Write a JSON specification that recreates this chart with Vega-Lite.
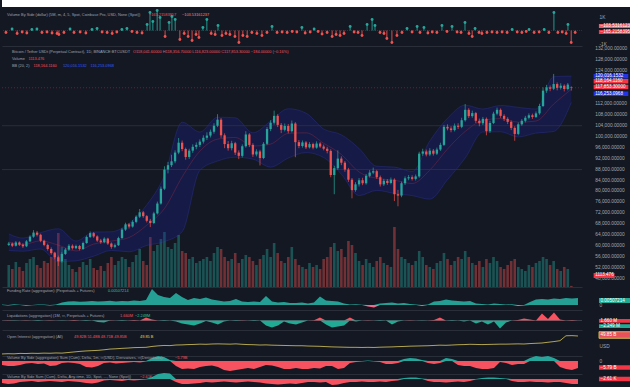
{
"$schema": "https://vega.github.io/schema/vega-lite/v6.json",
"background": "#141823",
"padding": 0,
"spacing": 0,
"bounds": "flush",
"resolve": {"scale": {"x": "independent", "y": "independent"}},
"config": {
  "view": {"stroke": null},
  "axisX": {"domain": true, "domainColor": "#2a2e39", "domainWidth": 1, "labels": false, "ticks": false, "grid": false, "titleOpacity": 0},
  "axisY": {"domain": false, "ticks": false, "grid": false, "labelFont": "Liberation Sans", "labelFontSize": 4.8, "labelColor": "#a3a6af", "labelPadding": 17, "labelOverlap": false, "titleOpacity": 0},
  "text": {"font": "Liberation Sans"}
},
"datasets": {
"c": [
{"i":0,"o":60.5,"h":61.6,"l":60.1,"c":61.0,"v":22},
{"i":1,"o":61.0,"h":61.4,"l":59.7,"c":60.2,"v":18},
{"i":2,"o":60.2,"h":61.9,"l":59.9,"c":61.4,"v":25},
{"i":3,"o":61.4,"h":61.8,"l":60.1,"c":60.6,"v":20},
{"i":4,"o":60.6,"h":61.1,"l":59.4,"c":60.0,"v":16},
{"i":5,"o":60.0,"h":62.3,"l":59.7,"c":61.8,"v":24},
{"i":6,"o":61.8,"h":64.0,"l":61.5,"c":63.5,"v":28},
{"i":7,"o":63.5,"h":65.9,"l":63.1,"c":65.0,"v":30},
{"i":8,"o":65.0,"h":65.6,"l":63.6,"c":64.2,"v":22},
{"i":9,"o":64.2,"h":64.6,"l":61.5,"c":62.0,"v":19},
{"i":10,"o":62.0,"h":62.4,"l":60.0,"c":60.5,"v":26},
{"i":11,"o":60.5,"h":61.0,"l":58.4,"c":59.0,"v":24},
{"i":12,"o":59.0,"h":59.6,"l":56.9,"c":57.5,"v":30},
{"i":13,"o":57.5,"h":58.0,"l":55.2,"c":56.0,"v":35},
{"i":14,"o":56.0,"h":56.6,"l":52.8,"c":54.5,"v":54},
{"i":15,"o":54.5,"h":57.8,"l":54.0,"c":57.2,"v":40},
{"i":16,"o":57.2,"h":59.4,"l":56.8,"c":58.8,"v":28},
{"i":17,"o":58.8,"h":60.8,"l":58.3,"c":60.2,"v":22},
{"i":18,"o":60.2,"h":60.7,"l":58.8,"c":59.3,"v":18},
{"i":19,"o":59.3,"h":60.6,"l":58.9,"c":60.1,"v":15},
{"i":20,"o":60.1,"h":60.5,"l":58.5,"c":59.0,"v":20},
{"i":21,"o":59.0,"h":61.7,"l":58.7,"c":61.2,"v":25},
{"i":22,"o":61.2,"h":63.9,"l":60.9,"c":63.4,"v":22},
{"i":23,"o":63.4,"h":65.4,"l":63.0,"c":64.8,"v":28},
{"i":24,"o":64.8,"h":65.2,"l":63.1,"c":63.6,"v":19},
{"i":25,"o":63.6,"h":64.0,"l":61.6,"c":62.1,"v":17},
{"i":26,"o":62.1,"h":62.7,"l":60.9,"c":61.5,"v":21},
{"i":27,"o":61.5,"h":63.3,"l":61.1,"c":62.8,"v":16},
{"i":28,"o":62.8,"h":63.1,"l":60.5,"c":61.0,"v":24},
{"i":29,"o":61.0,"h":61.4,"l":59.1,"c":59.8,"v":30},
{"i":30,"o":59.8,"h":61.0,"l":59.3,"c":60.4,"v":22},
{"i":31,"o":60.4,"h":63.5,"l":60.1,"c":63.0,"v":26},
{"i":32,"o":63.0,"h":66.7,"l":62.7,"c":66.1,"v":30},
{"i":33,"o":66.1,"h":68.6,"l":65.6,"c":68.0,"v":28},
{"i":34,"o":68.0,"h":68.5,"l":66.5,"c":67.2,"v":20},
{"i":35,"o":67.2,"h":69.5,"l":66.8,"c":68.9,"v":25},
{"i":36,"o":68.9,"h":71.3,"l":68.4,"c":70.8,"v":32},
{"i":37,"o":70.8,"h":73.6,"l":70.3,"c":72.4,"v":38},
{"i":38,"o":72.4,"h":72.9,"l":70.4,"c":71.0,"v":26},
{"i":39,"o":71.0,"h":71.4,"l":68.7,"c":69.3,"v":22},
{"i":40,"o":69.3,"h":70.0,"l":67.0,"c":68.5,"v":50},
{"i":41,"o":68.5,"h":72.6,"l":68.1,"c":72.0,"v":36},
{"i":42,"o":72.0,"h":76.3,"l":71.6,"c":75.6,"v":42},
{"i":43,"o":75.6,"h":81.8,"l":75.2,"c":81.0,"v":48},
{"i":44,"o":81.0,"h":89.2,"l":80.5,"c":88.0,"v":55},
{"i":45,"o":88.0,"h":90.8,"l":86.6,"c":89.6,"v":40},
{"i":46,"o":89.6,"h":93.4,"l":88.9,"c":91.0,"v":38},
{"i":47,"o":91.0,"h":95.0,"l":90.3,"c":94.2,"v":44},
{"i":48,"o":94.2,"h":99.5,"l":93.6,"c":97.8,"v":52},
{"i":49,"o":97.8,"h":98.6,"l":94.7,"c":95.5,"v":36},
{"i":50,"o":95.5,"h":96.0,"l":91.6,"c":92.6,"v":34},
{"i":51,"o":92.6,"h":95.6,"l":91.9,"c":94.9,"v":28},
{"i":52,"o":94.9,"h":97.2,"l":94.1,"c":96.3,"v":30},
{"i":53,"o":96.3,"h":97.9,"l":95.4,"c":97.0,"v":24},
{"i":54,"o":97.0,"h":99.0,"l":96.2,"c":98.2,"v":26},
{"i":55,"o":98.2,"h":100.5,"l":97.5,"c":99.6,"v":28},
{"i":56,"o":99.6,"h":101.6,"l":98.8,"c":100.4,"v":30},
{"i":57,"o":100.4,"h":102.6,"l":99.7,"c":101.8,"v":26},
{"i":58,"o":101.8,"h":104.9,"l":101.1,"c":104.0,"v":34},
{"i":59,"o":104.0,"h":108.2,"l":103.5,"c":106.2,"v":40},
{"i":60,"o":106.2,"h":106.8,"l":99.6,"c":100.5,"v":38},
{"i":61,"o":100.5,"h":101.2,"l":95.8,"c":97.3,"v":30},
{"i":62,"o":97.3,"h":98.4,"l":94.9,"c":95.8,"v":26},
{"i":63,"o":95.8,"h":98.5,"l":95.0,"c":97.6,"v":28},
{"i":64,"o":97.6,"h":98.1,"l":93.3,"c":94.2,"v":34},
{"i":65,"o":94.2,"h":95.0,"l":91.8,"c":93.0,"v":24},
{"i":66,"o":93.0,"h":97.2,"l":92.4,"c":96.5,"v":28},
{"i":67,"o":96.5,"h":102.0,"l":96.0,"c":100.8,"v":32},
{"i":68,"o":100.8,"h":101.3,"l":96.2,"c":97.0,"v":30},
{"i":69,"o":97.0,"h":97.6,"l":92.6,"c":93.5,"v":26},
{"i":70,"o":93.5,"h":95.4,"l":92.8,"c":94.6,"v":22},
{"i":71,"o":94.6,"h":95.2,"l":89.5,"c":92.2,"v":28},
{"i":72,"o":92.2,"h":98.0,"l":91.8,"c":97.4,"v":32},
{"i":73,"o":97.4,"h":103.5,"l":96.9,"c":102.8,"v":38},
{"i":74,"o":102.8,"h":106.0,"l":102.0,"c":105.1,"v":30},
{"i":75,"o":105.1,"h":109.5,"l":104.4,"c":107.6,"v":44},
{"i":76,"o":107.6,"h":108.2,"l":103.5,"c":104.3,"v":34},
{"i":77,"o":104.3,"h":105.0,"l":101.3,"c":102.5,"v":26},
{"i":78,"o":102.5,"h":104.8,"l":101.9,"c":103.9,"v":24},
{"i":79,"o":103.9,"h":104.6,"l":101.2,"c":102.0,"v":30},
{"i":80,"o":102.0,"h":105.9,"l":101.5,"c":104.8,"v":40},
{"i":81,"o":104.8,"h":105.3,"l":92.5,"c":98.0,"v":28},
{"i":82,"o":98.0,"h":98.8,"l":95.8,"c":96.6,"v":22},
{"i":83,"o":96.6,"h":98.6,"l":96.0,"c":97.9,"v":20},
{"i":84,"o":97.9,"h":98.4,"l":95.5,"c":96.1,"v":18},
{"i":85,"o":96.1,"h":98.0,"l":95.7,"c":97.3,"v":24},
{"i":86,"o":97.3,"h":97.8,"l":95.4,"c":96.0,"v":20},
{"i":87,"o":96.0,"h":98.3,"l":95.6,"c":97.5,"v":22},
{"i":88,"o":97.5,"h":98.0,"l":95.9,"c":96.4,"v":18},
{"i":89,"o":96.4,"h":97.1,"l":95.0,"c":95.6,"v":28},
{"i":90,"o":95.6,"h":96.3,"l":93.9,"c":94.8,"v":30},
{"i":91,"o":94.8,"h":95.4,"l":85.2,"c":86.0,"v":40},
{"i":92,"o":86.0,"h":89.4,"l":79.0,"c":88.5,"v":44},
{"i":93,"o":88.5,"h":95.0,"l":87.9,"c":92.0,"v":36},
{"i":94,"o":92.0,"h":92.8,"l":89.6,"c":90.5,"v":38},
{"i":95,"o":90.5,"h":91.1,"l":87.2,"c":88.0,"v":30},
{"i":96,"o":88.0,"h":88.6,"l":83.5,"c":84.3,"v":46},
{"i":97,"o":84.3,"h":84.9,"l":77.5,"c":80.5,"v":42},
{"i":98,"o":80.5,"h":83.4,"l":79.9,"c":82.6,"v":34},
{"i":99,"o":82.6,"h":84.9,"l":81.8,"c":84.1,"v":26},
{"i":100,"o":84.1,"h":85.0,"l":82.3,"c":83.0,"v":22},
{"i":101,"o":83.0,"h":86.4,"l":82.5,"c":85.7,"v":28},
{"i":102,"o":85.7,"h":87.8,"l":85.1,"c":86.9,"v":24},
{"i":103,"o":86.9,"h":88.7,"l":86.3,"c":87.4,"v":20},
{"i":104,"o":87.4,"h":87.9,"l":84.6,"c":85.2,"v":26},
{"i":105,"o":85.2,"h":85.8,"l":81.8,"c":82.6,"v":30},
{"i":106,"o":82.6,"h":84.6,"l":82.0,"c":83.9,"v":24},
{"i":107,"o":83.9,"h":84.5,"l":82.4,"c":83.1,"v":22},
{"i":108,"o":83.1,"h":85.1,"l":82.6,"c":84.3,"v":20},
{"i":109,"o":84.3,"h":84.8,"l":76.5,"c":79.0,"v":60},
{"i":110,"o":79.0,"h":80.6,"l":74.6,"c":78.5,"v":38},
{"i":111,"o":78.5,"h":83.6,"l":77.9,"c":83.0,"v":30},
{"i":112,"o":83.0,"h":85.5,"l":82.4,"c":84.8,"v":28},
{"i":113,"o":84.8,"h":86.0,"l":84.1,"c":85.2,"v":24},
{"i":114,"o":85.2,"h":85.9,"l":84.0,"c":84.6,"v":22},
{"i":115,"o":84.6,"h":86.2,"l":84.0,"c":85.5,"v":26},
{"i":116,"o":85.5,"h":94.5,"l":85.0,"c":93.8,"v":36},
{"i":117,"o":93.8,"h":95.6,"l":93.0,"c":94.6,"v":30},
{"i":118,"o":94.6,"h":95.3,"l":92.8,"c":93.5,"v":22},
{"i":119,"o":93.5,"h":95.8,"l":92.9,"c":94.9,"v":20},
{"i":120,"o":94.9,"h":95.5,"l":93.1,"c":93.8,"v":18},
{"i":121,"o":93.8,"h":96.0,"l":93.3,"c":95.3,"v":24},
{"i":122,"o":95.3,"h":97.8,"l":94.8,"c":97.0,"v":26},
{"i":123,"o":97.0,"h":104.3,"l":96.6,"c":103.6,"v":34},
{"i":124,"o":103.6,"h":104.5,"l":102.3,"c":103.0,"v":28},
{"i":125,"o":103.0,"h":103.8,"l":101.6,"c":102.4,"v":22},
{"i":126,"o":102.4,"h":104.8,"l":101.9,"c":104.0,"v":26},
{"i":127,"o":104.0,"h":104.9,"l":102.8,"c":103.6,"v":30},
{"i":128,"o":103.6,"h":106.9,"l":103.1,"c":106.0,"v":28},
{"i":129,"o":106.0,"h":111.9,"l":105.5,"c":109.8,"v":36},
{"i":130,"o":109.8,"h":110.4,"l":106.8,"c":107.5,"v":30},
{"i":131,"o":107.5,"h":109.5,"l":106.9,"c":108.6,"v":24},
{"i":132,"o":108.6,"h":109.0,"l":105.0,"c":105.8,"v":22},
{"i":133,"o":105.8,"h":106.6,"l":103.8,"c":104.9,"v":26},
{"i":134,"o":104.9,"h":107.2,"l":104.2,"c":106.5,"v":20},
{"i":135,"o":106.5,"h":107.0,"l":100.5,"c":102.0,"v":28},
{"i":136,"o":102.0,"h":105.8,"l":101.4,"c":105.0,"v":24},
{"i":137,"o":105.0,"h":109.1,"l":104.6,"c":108.4,"v":30},
{"i":138,"o":108.4,"h":110.6,"l":107.8,"c":109.8,"v":26},
{"i":139,"o":109.8,"h":110.3,"l":106.9,"c":107.6,"v":20},
{"i":140,"o":107.6,"h":108.2,"l":105.7,"c":106.5,"v":18},
{"i":141,"o":106.5,"h":107.1,"l":104.6,"c":105.4,"v":22},
{"i":142,"o":105.4,"h":105.9,"l":102.4,"c":103.2,"v":26},
{"i":143,"o":103.2,"h":103.8,"l":98.5,"c":101.0,"v":28},
{"i":144,"o":101.0,"h":105.2,"l":100.5,"c":104.5,"v":20},
{"i":145,"o":104.5,"h":106.4,"l":104.0,"c":105.8,"v":18},
{"i":146,"o":105.8,"h":107.6,"l":105.2,"c":106.9,"v":16},
{"i":147,"o":106.9,"h":108.5,"l":106.3,"c":107.8,"v":22},
{"i":148,"o":107.8,"h":108.4,"l":106.5,"c":107.2,"v":20},
{"i":149,"o":107.2,"h":109.2,"l":106.8,"c":108.5,"v":24},
{"i":150,"o":108.5,"h":112.0,"l":108.0,"c":111.2,"v":26},
{"i":151,"o":111.2,"h":118.0,"l":110.8,"c":116.8,"v":30},
{"i":152,"o":116.8,"h":118.9,"l":116.0,"c":118.0,"v":28},
{"i":153,"o":118.0,"h":118.7,"l":116.6,"c":117.5,"v":22},
{"i":154,"o":117.5,"h":122.9,"l":117.0,"c":119.2,"v":26},
{"i":155,"o":119.2,"h":119.8,"l":116.9,"c":117.8,"v":18},
{"i":156,"o":117.8,"h":119.5,"l":117.2,"c":118.6,"v":16},
{"i":157,"o":118.6,"h":119.1,"l":116.5,"c":117.4,"v":20},
{"i":158,"o":117.4,"h":119.6,"l":116.9,"c":119.0,"v":18},
{"i":159,"o":118.04,"h":118.36,"l":116.82,"c":117.85,"v":1.1}
],
"bb": [
{"i":0,"u":64.5,"m":61.5,"l":58.5},
{"i":4,"u":63.0,"m":60.6,"l":58.2},
{"i":9,"u":65.0,"m":62.0,"l":59.0},
{"i":14,"u":66.4,"m":60.4,"l":54.4},
{"i":19,"u":61.9,"m":58.3,"l":54.7},
{"i":24,"u":65.2,"m":60.8,"l":56.4},
{"i":29,"u":65.3,"m":61.9,"l":58.5},
{"i":34,"u":68.4,"m":63.2,"l":58.0},
{"i":39,"u":75.1,"m":67.7,"l":60.3},
{"i":44,"u":85.8,"m":73.8,"l":61.7},
{"i":49,"u":105.3,"m":85.3,"l":65.3},
{"i":54,"u":101.7,"m":94.7,"l":87.7},
{"i":59,"u":107.1,"m":99.1,"l":91.1},
{"i":64,"u":106.9,"m":99.7,"l":92.5},
{"i":69,"u":101.4,"m":96.6,"l":91.8},
{"i":74,"u":105.7,"m":97.3,"l":88.9},
{"i":79,"u":110.2,"m":101.2,"l":92.2},
{"i":84,"u":108.6,"m":101.4,"l":94.2},
{"i":89,"u":102.8,"m":97.6,"l":92.4},
{"i":94,"u":100.7,"m":93.5,"l":86.3},
{"i":99,"u":95.7,"m":87.1,"l":78.5},
{"i":104,"u":89.2,"m":84.8,"l":80.4},
{"i":109,"u":88.9,"m":84.1,"l":79.3},
{"i":114,"u":87.3,"m":82.9,"l":78.5},
{"i":119,"u":98.4,"m":87.8,"l":77.2},
{"i":124,"u":106.7,"m":95.5,"l":84.3},
{"i":129,"u":111.5,"m":101.9,"l":92.2},
{"i":134,"u":110.1,"m":105.9,"l":101.7},
{"i":139,"u":111.4,"m":106.6,"l":101.8},
{"i":144,"u":110.7,"m":105.3,"l":99.9},
{"i":149,"u":110.1,"m":105.7,"l":101.3},
{"i":154,"u":121.9,"m":111.9,"l":101.9},
{"i":159,"u":122.1,"m":117.3,"l":112.5}
],
"ticks": [
{"t":48,"s":"48,000.00000"},{"t":52,"s":"52,000.00000"},{"t":56,"s":"56,000.00000"},{"t":60,"s":"60,000.00000"},{"t":64,"s":"64,000.00000"},{"t":68,"s":"68,000.00000"},
{"t":72,"s":"72,000.00000"},{"t":76,"s":"76,000.00000"},{"t":80,"s":"80,000.00000"},{"t":84,"s":"84,000.00000"},{"t":88,"s":"88,000.00000"},{"t":92,"s":"92,000.00000"},
{"t":96,"s":"96,000.00000"},{"t":100,"s":"100,000.00000"},{"t":104,"s":"104,000.00000"},{"t":108,"s":"108,000.00000"},{"t":112,"s":"112,000.00000"},
{"t":124,"s":"124,000.00000"},{"t":128,"s":"128,000.00000"},{"t":132,"s":"132,000.00000"}
],
"vs": [
{"i":0.6,"v":-2},{"i":2.3,"v":1.5},{"i":3.7,"v":-3},{"i":5.1,"v":-1.5},{"i":6.4,"v":-2.5},{"i":7.8,"v":1},{"i":9.2,"v":1.5},{"i":10.6,"v":-2},{"i":12,"v":-1.5},{"i":13.4,"v":-2.5},
{"i":14.8,"v":-3},{"i":15.3,"v":-4},{"i":16.7,"v":-2},{"i":18.4,"v":1.5},{"i":19.5,"v":-2},{"i":21.2,"v":-1.5},{"i":22.8,"v":-2.5},{"i":24.5,"v":1},{"i":25.9,"v":2},{"i":27.3,"v":-1.5},
{"i":28.7,"v":-2},{"i":30.1,"v":-3},{"i":31.4,"v":-1.5},{"i":32.8,"v":1},{"i":34.2,"v":2},{"i":35.6,"v":-1},{"i":37,"v":-2},{"i":38.4,"v":-2.5},{"i":39.8,"v":6},{"i":40.6,"v":18},
{"i":41.4,"v":9},{"i":42.6,"v":20},{"i":43.4,"v":13},{"i":44.8,"v":-6},{"i":45.9,"v":8},{"i":46.7,"v":14},{"i":47.6,"v":11},{"i":48.9,"v":-9},{"i":50.1,"v":-3},{"i":51.2,"v":-6},
{"i":52.3,"v":-10},{"i":53.4,"v":-4},{"i":54.2,"v":-7},{"i":55.3,"v":3},{"i":56.4,"v":11},{"i":57.6,"v":-3},{"i":58.7,"v":-4},{"i":59.5,"v":5},{"i":60.6,"v":-5},{"i":61.7,"v":-3},
{"i":62.8,"v":-4},{"i":64.2,"v":-6},{"i":65.3,"v":-12},{"i":66.4,"v":-5},{"i":67.6,"v":-6},{"i":68.9,"v":-2},{"i":70.3,"v":-3},{"i":71.7,"v":-5},{"i":73.1,"v":-2},{"i":74.5,"v":4},
{"i":75.9,"v":-2},{"i":77.3,"v":-1.5},{"i":78.7,"v":-2},{"i":80.1,"v":-1},{"i":81.4,"v":-1.5},{"i":82.8,"v":3},{"i":83.7,"v":-2.5},{"i":85.1,"v":-1.5},{"i":86.2,"v":1.5},{"i":87.3,"v":-1},
{"i":88.4,"v":-3.5},{"i":89.8,"v":-2},{"i":91.2,"v":-6},{"i":92.3,"v":-4},{"i":93.4,"v":-5},{"i":94.5,"v":-3},{"i":96.2,"v":4},{"i":97.3,"v":-1.5},{"i":98.4,"v":-2},{"i":99.5,"v":-5},
{"i":100.9,"v":6},{"i":102.3,"v":11},{"i":103.1,"v":5},{"i":104.5,"v":-2},{"i":105.6,"v":-3},{"i":106.4,"v":-8},{"i":107.8,"v":-12},{"i":109.2,"v":-5},{"i":110.6,"v":-2},{"i":112,"v":2},
{"i":113.4,"v":-1.5},{"i":114.8,"v":4},{"i":115.6,"v":-2},{"i":116.7,"v":3},{"i":117.8,"v":-2.5},{"i":119,"v":-1.5},{"i":120.3,"v":-2},{"i":121.7,"v":5},{"i":123.1,"v":-1},{"i":124.5,"v":4},
{"i":125.9,"v":-1.5},{"i":127,"v":-2},{"i":128.1,"v":8},{"i":129.2,"v":-3},{"i":130.1,"v":-6},{"i":130.9,"v":2},{"i":132,"v":-2},{"i":132.8,"v":-3},{"i":134.2,"v":-2},{"i":135.6,"v":-1.5},
{"i":137,"v":-2},{"i":138.4,"v":-1.5},{"i":139.8,"v":-2},{"i":141.2,"v":1},{"i":142.6,"v":-1.5},{"i":143.9,"v":-2},{"i":145.1,"v":-1},{"i":145.9,"v":1},{"i":147.3,"v":-2},{"i":148.7,"v":-1.5},
{"i":150.1,"v":1},{"i":151.4,"v":-2},{"i":152.8,"v":18},{"i":153.9,"v":-2},{"i":155.1,"v":-1.5},{"i":156.2,"v":-3},{"i":156.7,"v":6},{"i":157.6,"v":-12},{"i":158.7,"v":-2}
],
"ind": [
{"j":0,"fp":0.5,"fn":0,"qp":0,"qn":0,"oi":37.4,"ap":0,"an":-4,"bp":0,"bn":-4},
{"j":1,"fp":0,"fn":-0.5,"qp":0.3,"qn":0,"oi":37.6,"ap":0,"an":-5,"bp":0,"bn":-5},
{"j":2,"fp":0.8,"fn":0,"qp":0,"qn":-0.3,"oi":37.5,"ap":0,"an":-5,"bp":0,"bn":-4.5},
{"j":3,"fp":0.3,"fn":0,"qp":0,"qn":0,"oi":37.8,"ap":0,"an":-4,"bp":0,"bn":-3},
{"j":4,"fp":0,"fn":-0.8,"qp":0.3,"qn":0,"oi":37.7,"ap":0,"an":-2.5,"bp":0,"bn":-2.5},
{"j":5,"fp":0,"fn":-0.3,"qp":0,"qn":0,"oi":37.9,"ap":0,"an":-2,"bp":0,"bn":-2},
{"j":6,"fp":0.6,"fn":0,"qp":0,"qn":-0.4,"oi":37.8,"ap":0,"an":-3,"bp":0,"bn":-3},
{"j":7,"fp":0.4,"fn":0,"qp":0,"qn":0,"oi":38.0,"ap":0,"an":-2.5,"bp":0,"bn":-2.5},
{"j":8,"fp":0,"fn":-0.5,"qp":0.3,"qn":0,"oi":37.9,"ap":0,"an":-5,"bp":0,"bn":-2},
{"j":9,"fp":0.5,"fn":0,"qp":0,"qn":0,"oi":38.1,"ap":0,"an":-4.5,"bp":0,"bn":-2.5},
{"j":10,"fp":2.5,"fn":0,"qp":0,"qn":-0.3,"oi":38.0,"ap":0,"an":-2,"bp":0,"bn":-3},
{"j":11,"fp":3.5,"fn":0,"qp":0,"qn":0,"oi":38.4,"ap":0,"an":-1.5,"bp":0,"bn":-2},
{"j":12,"fp":3.8,"fn":0,"qp":0.4,"qn":0,"oi":38.8,"ap":0,"an":-2,"bp":0,"bn":-2.5},
{"j":13,"fp":3.2,"fn":0,"qp":0,"qn":0,"oi":39.2,"ap":0,"an":-3,"bp":0,"bn":-3},
{"j":14,"fp":3.6,"fn":0,"qp":0,"qn":-0.5,"oi":39.5,"ap":0,"an":-6,"bp":0,"bn":-4},
{"j":15,"fp":4,"fn":0,"qp":0,"qn":0,"oi":39.7,"ap":0,"an":-6.5,"bp":0,"bn":-4.5},
{"j":16,"fp":3.5,"fn":0,"qp":0,"qn":-1.5,"oi":39.9,"ap":0,"an":-5,"bp":0,"bn":-3.5},
{"j":17,"fp":3.8,"fn":0,"qp":0,"qn":-2,"oi":40.3,"ap":0,"an":-2,"bp":0,"bn":-1.5},
{"j":18,"fp":4.2,"fn":0,"qp":0.3,"qn":0,"oi":40.8,"ap":0,"an":-1.5,"bp":0,"bn":-1},
{"j":19,"fp":3.6,"fn":0,"qp":0,"qn":0,"oi":41.0,"ap":0,"an":-2.5,"bp":0,"bn":-1.5},
{"j":20,"fp":4,"fn":0,"qp":0,"qn":-0.5,"oi":41.3,"ap":0,"an":-2,"bp":0,"bn":-2},
{"j":21,"fp":3.8,"fn":0,"qp":0,"qn":0,"oi":41.5,"ap":0,"an":-1.5,"bp":0,"bn":-1},
{"j":22,"fp":4.5,"fn":0,"qp":0.4,"qn":0,"oi":41.8,"ap":0,"an":-1,"bp":0,"bn":-1.5},
{"j":23,"fp":4,"fn":0,"qp":0,"qn":0,"oi":41.9,"ap":0,"an":-1.5,"bp":0,"bn":-1},
{"j":24,"fp":5,"fn":0,"qp":3,"qn":0,"oi":42.0,"ap":0,"an":-0.5,"bp":0,"bn":-0.5},
{"j":25,"fp":16,"fn":0,"qp":1,"qn":0,"oi":42.6,"ap":3,"an":0,"bp":2,"bn":0},
{"j":26,"fp":10,"fn":0,"qp":0,"qn":0,"oi":43.0,"ap":5,"an":0,"bp":5,"bn":0},
{"j":27,"fp":8,"fn":0,"qp":0,"qn":-0.5,"oi":43.3,"ap":4,"an":0,"bp":6,"bn":0},
{"j":28,"fp":7,"fn":0,"qp":0,"qn":0,"oi":43.2,"ap":1,"an":0,"bp":5.5,"bn":0},
{"j":29,"fp":12,"fn":0,"qp":0,"qn":-1,"oi":43.6,"ap":0,"an":-5,"bp":0,"bn":-3},
{"j":30,"fp":8,"fn":0,"qp":0,"qn":-3,"oi":43.7,"ap":0,"an":-8,"bp":0,"bn":-5},
{"j":31,"fp":5,"fn":0,"qp":0,"qn":-4,"oi":43.9,"ap":0,"an":-7.5,"bp":0,"bn":-5},
{"j":32,"fp":7,"fn":0,"qp":0,"qn":-5,"oi":44.0,"ap":0,"an":-8,"bp":0,"bn":-4.5},
{"j":33,"fp":6,"fn":0,"qp":0,"qn":-3,"oi":44.2,"ap":0,"an":-6,"bp":0,"bn":-4},
{"j":34,"fp":7.5,"fn":0,"qp":0,"qn":-0.5,"oi":44.1,"ap":0,"an":-5,"bp":0,"bn":-3},
{"j":35,"fp":5.5,"fn":0,"qp":0,"qn":-2,"oi":44.3,"ap":0,"an":-4.5,"bp":0,"bn":-3.5},
{"j":36,"fp":4.5,"fn":0,"qp":0,"qn":-4,"oi":44.4,"ap":0,"an":-6,"bp":0,"bn":-3},
{"j":37,"fp":3.5,"fn":0,"qp":0,"qn":-1,"oi":44.3,"ap":0,"an":-9,"bp":0,"bn":-2.5},
{"j":38,"fp":4,"fn":0,"qp":0,"qn":0,"oi":44.2,"ap":0,"an":-10,"bp":0,"bn":-3},
{"j":39,"fp":6,"fn":0,"qp":0,"qn":-0.5,"oi":44.4,"ap":0,"an":-9,"bp":0,"bn":-3.5},
{"j":40,"fp":3.5,"fn":0,"qp":0.3,"qn":0,"oi":44.1,"ap":0,"an":-8,"bp":0,"bn":-3},
{"j":41,"fp":3,"fn":0,"qp":0,"qn":0,"oi":43.9,"ap":0,"an":-7,"bp":0,"bn":-2.5},
{"j":42,"fp":3.5,"fn":0,"qp":0,"qn":-0.5,"oi":43.8,"ap":0,"an":-8,"bp":0,"bn":-3},
{"j":43,"fp":3,"fn":0,"qp":0,"qn":0,"oi":43.6,"ap":0,"an":-6,"bp":0,"bn":-3.5},
{"j":44,"fp":9,"fn":0,"qp":0,"qn":-5,"oi":43.7,"ap":0,"an":-4,"bp":0,"bn":-4.5},
{"j":45,"fp":3.5,"fn":0,"qp":0,"qn":-7,"oi":43.5,"ap":0,"an":-4.5,"bp":0,"bn":-5},
{"j":46,"fp":2.5,"fn":0,"qp":0,"qn":-5,"oi":43.4,"ap":0,"an":-6,"bp":0,"bn":-5.5},
{"j":47,"fp":3,"fn":0,"qp":0,"qn":-1,"oi":43.3,"ap":0,"an":-8,"bp":0,"bn":-5},
{"j":48,"fp":2,"fn":0,"qp":0,"qn":-3,"oi":43.2,"ap":0,"an":-8,"bp":0,"bn":-4.5},
{"j":49,"fp":2,"fn":0,"qp":0,"qn":-4,"oi":43.1,"ap":0,"an":-7,"bp":0,"bn":-5},
{"j":50,"fp":2.5,"fn":0,"qp":0,"qn":-2,"oi":43.1,"ap":0,"an":-8,"bp":0,"bn":-4},
{"j":51,"fp":1.5,"fn":0,"qp":0,"qn":0,"oi":42.9,"ap":0,"an":-8,"bp":0,"bn":-3},
{"j":52,"fp":2.5,"fn":0,"qp":0.3,"qn":0,"oi":42.8,"ap":0,"an":-7,"bp":0,"bn":-3},
{"j":53,"fp":8.5,"fn":0,"qp":3,"qn":0,"oi":42.7,"ap":0,"an":-7.5,"bp":0,"bn":-3.5},
{"j":54,"fp":4.5,"fn":0,"qp":0,"qn":-4,"oi":42.5,"ap":0,"an":-5,"bp":0,"bn":-3},
{"j":55,"fp":4,"fn":0,"qp":0,"qn":-7,"oi":42.3,"ap":0,"an":-5,"bp":0,"bn":-6},
{"j":56,"fp":3.5,"fn":0,"qp":0,"qn":-6,"oi":42.2,"ap":0,"an":-8,"bp":0,"bn":-5.5},
{"j":57,"fp":1.5,"fn":0,"qp":0,"qn":-5,"oi":42.1,"ap":0,"an":-7,"bp":0,"bn":-4},
{"j":58,"fp":0.5,"fn":0,"qp":3,"qn":0,"oi":42.0,"ap":0,"an":-2,"bp":0,"bn":-3},
{"j":59,"fp":0.8,"fn":0,"qp":0,"qn":-1,"oi":42.0,"ap":0,"an":-1,"bp":0,"bn":-3},
{"j":60,"fp":0.3,"fn":0,"qp":0,"qn":0,"oi":41.9,"ap":0,"an":-0.5,"bp":0,"bn":-2.5},
{"j":61,"fp":0,"fn":-1.5,"qp":0.3,"qn":0,"oi":42.0,"ap":0.5,"an":0,"bp":0,"bn":-3},
{"j":62,"fp":0,"fn":-2.5,"qp":0,"qn":0,"oi":41.9,"ap":0,"an":-0.5,"bp":0,"bn":-3},
{"j":63,"fp":1.5,"fn":0,"qp":0,"qn":-0.5,"oi":42.1,"ap":0,"an":-1,"bp":0,"bn":-2.5},
{"j":64,"fp":2,"fn":0,"qp":0,"qn":0,"oi":42.2,"ap":0,"an":-3,"bp":0,"bn":-3},
{"j":65,"fp":2.5,"fn":0,"qp":0,"qn":-4,"oi":42.3,"ap":0,"an":-3,"bp":0,"bn":-2},
{"j":66,"fp":1.5,"fn":0,"qp":0,"qn":-1,"oi":42.5,"ap":0,"an":-2,"bp":0,"bn":-1.5},
{"j":67,"fp":2,"fn":0,"qp":0,"qn":0,"oi":42.6,"ap":2,"an":0,"bp":1,"bn":0},
{"j":68,"fp":1,"fn":0,"qp":0.3,"qn":0,"oi":42.8,"ap":3,"an":0,"bp":1.5,"bn":0},
{"j":69,"fp":0.5,"fn":0,"qp":0,"qn":0,"oi":42.9,"ap":2.5,"an":0,"bp":1.5,"bn":0},
{"j":70,"fp":0,"fn":-1,"qp":0,"qn":-0.3,"oi":43.0,"ap":1,"an":0,"bp":0.5,"bn":0},
{"j":71,"fp":0.5,"fn":0,"qp":0,"qn":0,"oi":43.1,"ap":0,"an":-2,"bp":0,"bn":-2},
{"j":72,"fp":3.5,"fn":0,"qp":0.5,"qn":0,"oi":43.3,"ap":0,"an":-3,"bp":0,"bn":-3},
{"j":73,"fp":4,"fn":0,"qp":3,"qn":0,"oi":43.5,"ap":0,"an":-2,"bp":0,"bn":-3},
{"j":74,"fp":5.5,"fn":0,"qp":0,"qn":0,"oi":43.4,"ap":3,"an":0,"bp":0,"bn":-3.5},
{"j":75,"fp":4.5,"fn":0,"qp":0,"qn":-0.5,"oi":43.6,"ap":2,"an":0,"bp":0,"bn":-3},
{"j":76,"fp":4,"fn":0,"qp":0,"qn":0,"oi":43.8,"ap":0,"an":-4,"bp":0,"bn":-2.5},
{"j":77,"fp":3.5,"fn":0,"qp":0,"qn":-1,"oi":43.9,"ap":0,"an":-5,"bp":0,"bn":-3},
{"j":78,"fp":4,"fn":0,"qp":0,"qn":0,"oi":44.1,"ap":0,"an":-5,"bp":0,"bn":-2},
{"j":79,"fp":1.5,"fn":0,"qp":0,"qn":-3,"oi":44.0,"ap":0,"an":-7,"bp":0,"bn":-0.5},
{"j":80,"fp":1,"fn":0,"qp":0,"qn":-1,"oi":43.9,"ap":0,"an":-8,"bp":1,"bn":0},
{"j":81,"fp":0.5,"fn":0,"qp":0,"qn":-4,"oi":44.0,"ap":0,"an":-8,"bp":1.5,"bn":0},
{"j":82,"fp":1.5,"fn":0,"qp":0,"qn":-1,"oi":44.1,"ap":0,"an":-7,"bp":1.5,"bn":0},
{"j":83,"fp":1,"fn":0,"qp":0,"qn":-8,"oi":44.2,"ap":0,"an":-1,"bp":1,"bn":0},
{"j":84,"fp":0.5,"fn":0,"qp":0,"qn":-2,"oi":44.2,"ap":0,"an":-2,"bp":0.5,"bn":0},
{"j":85,"fp":0.8,"fn":0,"qp":0,"qn":0,"oi":44.3,"ap":0,"an":-4,"bp":0,"bn":-2},
{"j":86,"fp":0,"fn":-1,"qp":0.5,"qn":0,"oi":44.4,"ap":0,"an":-3,"bp":0,"bn":-3},
{"j":87,"fp":0,"fn":-0.5,"qp":2,"qn":0,"oi":44.3,"ap":0,"an":-3,"bp":0,"bn":-3},
{"j":88,"fp":3,"fn":0,"qp":1,"qn":0,"oi":44.6,"ap":3,"an":0,"bp":0,"bn":-2.5},
{"j":89,"fp":5.5,"fn":0,"qp":0,"qn":0,"oi":44.8,"ap":5,"an":0,"bp":0,"bn":-3},
{"j":90,"fp":6,"fn":0,"qp":7,"qn":0,"oi":45.0,"ap":4,"an":0,"bp":0,"bn":-3},
{"j":91,"fp":5.5,"fn":0,"qp":1.5,"qn":0,"oi":45.5,"ap":5,"an":0,"bp":0,"bn":-3.5},
{"j":92,"fp":6.5,"fn":0,"qp":8,"qn":0,"oi":46.0,"ap":3,"an":0,"bp":0,"bn":-3},
{"j":93,"fp":6,"fn":0,"qp":1,"qn":0,"oi":46.6,"ap":0,"an":-6,"bp":0,"bn":-3},
{"j":94,"fp":7,"fn":0,"qp":0,"qn":0,"oi":50.0,"ap":0,"an":-8,"bp":0,"bn":-4},
{"j":95,"fp":6.5,"fn":0,"qp":0.5,"qn":0,"oi":50.1,"ap":0,"an":-9,"bp":0,"bn":-5},
{"j":96,"fp":7,"fn":0,"qp":0,"qn":0,"oi":49.85,"ap":0,"an":-7,"bp":0,"bn":-5}
]
},
"vconcat": [
{"width": 630, "height": 7, "view": {"fill": "#ffffff", "stroke": null}, "data": {"values": [{}]}, "mark": {"type": "point", "opacity": 0}},
{
 "width": 580, "height": 39,
 "layer": [
  {"data": {"name": "vs"}, "mark": {"type": "rule", "strokeWidth": 0.9},
   "encoding": {
    "x": {"field": "i", "type": "quantitative", "title": null, "scale": {"domain": [-0.5, 160.6], "nice": false, "zero": false}},
    "y": {"field": "v", "type": "quantitative", "title": null, "scale": {"domain": [-15.5, 23.5], "nice": false, "zero": false}, "axis": {"orient": "right", "values": [13.5, -13.5], "labelExpr": "datum.value > 0 ? '1K' : '-1K'", "title": null}},
    "y2": {"datum": 0},
    "color": {"condition": {"test": "datum.v >= 0", "value": "#26a69a"}, "value": "#ef5350"}}},
  {"data": {"values": [{}]}, "mark": {"type": "rule", "color": "#787b86", "strokeWidth": 0.5, "opacity": 0.5, "strokeDash": [1, 1]}, "encoding": {"y": {"datum": 0, "title": null}}},
  {"data": {"name": "vs"}, "mark": {"type": "circle", "size": 8, "opacity": 1},
   "encoding": {"x": {"field": "i", "type": "quantitative", "title": null}, "y": {"field": "v", "type": "quantitative", "title": null},
    "color": {"condition": {"test": "datum.v >= 0", "value": "#26a69a"}, "value": "#ef5350"}}},
  {"data": {"values": [{}]}, "mark": {"type": "text", "align": "left", "baseline": "middle", "fontSize": 3.9, "color": "#a0a4ad", "text": "Volume By Side (dollar) (5M, m, 4, 5, Spot, Coinbase Pro, USD, None (Spot))"}, "encoding": {"x": {"datum": 0.9, "title": null}, "y": {"datum": 15.5, "title": null}}},
  {"data": {"values": [{}]}, "mark": {"type": "text", "align": "left", "baseline": "middle", "fontSize": 3.9, "color": "#f7525f", "text": "−165.21583957"}, "encoding": {"x": {"datum": 40.3, "title": null}, "y": {"datum": 15.5, "title": null}}},
  {"data": {"values": [{}]}, "mark": {"type": "text", "align": "left", "baseline": "middle", "fontSize": 3.9, "color": "#f08a90", "text": "−103.53161237"}, "encoding": {"x": {"datum": 49.5, "title": null}, "y": {"datum": 15.5, "title": null}}},
  {"data": {"values": [{}]}, "mark": {"type": "rect", "color": "#e8606a"}, "encoding": {"x": {"datum": 165.3, "title": null}, "x2": {"datum": 175.1}, "y": {"datum": 2.5, "title": null}, "y2": {"datum": 6.5}}},
  {"data": {"values": [{}]}, "mark": {"type": "text", "align": "left", "baseline": "middle", "fontSize": 4.6, "color": "#ffffff", "text": "−103.5316123"}, "encoding": {"x": {"datum": 165.75, "title": null}, "y": {"datum": 4.5, "title": null}}},
  {"data": {"values": [{}]}, "mark": {"type": "rect", "color": "#f23645"}, "encoding": {"x": {"datum": 165.3, "title": null}, "x2": {"datum": 175.1}, "y": {"datum": -3.5, "title": null}, "y2": {"datum": 0.5}}},
  {"data": {"values": [{}]}, "mark": {"type": "text", "align": "left", "baseline": "middle", "fontSize": 4.6, "color": "#ffffff", "text": "−165.2158395"}, "encoding": {"x": {"datum": 165.75, "title": null}, "y": {"datum": -1.5, "title": null}}}
 ]
},
{
 "width": 580, "height": 241,
 "layer": [
  {"data": {"name": "c"}, "mark": {"type": "bar", "width": 2.6, "opacity": 0.42},
   "encoding": {
    "x": {"field": "i", "type": "quantitative", "title": null, "scale": {"domain": [-0.5, 160.6], "nice": false, "zero": false}},
    "y": {"field": "v", "type": "quantitative", "title": null, "scale": {"domain": [0, 241], "nice": false}, "axis": null},
    "color": {"condition": {"test": "datum.c >= datum.o", "value": "#26a69a"}, "value": "#ef5350"}}},
  {"layer": [
    {"data": {"name": "bb"}, "mark": {"type": "area", "interpolate": "monotone", "color": "#1c22a8", "opacity": 0.27},
     "encoding": {
      "x": {"field": "i", "type": "quantitative", "title": null, "scale": {"domain": [-0.5, 160.6], "nice": false, "zero": false}},
      "y": {"field": "u", "type": "quantitative", "title": null, "scale": {"domain": [45.14, 133.09], "nice": false, "zero": false},
            "axis": {"orient": "right", "values": [], "labels": false, "title": null}},
      "y2": {"field": "l"}}},
    {"data": {"name": "bb"}, "mark": {"type": "line", "interpolate": "monotone", "color": "#3a40c8", "strokeWidth": 0.7, "opacity": 0.4},
     "encoding": {"x": {"field": "i", "type": "quantitative", "title": null}, "y": {"field": "u", "type": "quantitative", "title": null}}},
    {"data": {"name": "bb"}, "mark": {"type": "line", "interpolate": "monotone", "color": "#3a40c8", "strokeWidth": 0.7, "opacity": 0.4},
     "encoding": {"x": {"field": "i", "type": "quantitative", "title": null}, "y": {"field": "l", "type": "quantitative", "title": null}}},
    {"data": {"name": "bb"}, "mark": {"type": "line", "interpolate": "monotone", "color": "#f23645", "strokeWidth": 0.6, "opacity": 0.4},
     "encoding": {"x": {"field": "i", "type": "quantitative", "title": null}, "y": {"field": "m", "type": "quantitative", "title": null}}},
    {"data": {"values": [{}]}, "mark": {"type": "rule", "color": "#2f333e", "strokeWidth": 0.8}, "encoding": {"y": {"datum": 104, "title": null}}},
    {"data": {"values": [{}]}, "mark": {"type": "rule", "color": "#2f333e", "strokeWidth": 0.8}, "encoding": {"y": {"datum": 88, "title": null}}},
    {"data": {"name": "c"}, "mark": {"type": "rule", "strokeWidth": 0.7},
     "encoding": {"x": {"field": "i", "type": "quantitative", "title": null}, "y": {"field": "l", "type": "quantitative", "title": null}, "y2": {"field": "h"},
      "color": {"condition": {"test": "datum.c >= datum.o", "value": "#26a69a"}, "value": "#ef5350"}}},
    {"data": {"name": "c"}, "mark": {"type": "bar", "width": 2.3},
     "encoding": {"x": {"field": "i", "type": "quantitative", "title": null}, "y": {"field": "o", "type": "quantitative", "title": null}, "y2": {"field": "c"},
      "color": {"condition": {"test": "datum.c >= datum.o", "value": "#26a69a"}, "value": "#ef5350"}}},
    {"data": {"values": [{}]}, "mark": {"type": "rule", "color": "#f23645", "strokeWidth": 0.7, "opacity": 0.5, "strokeDash": [1, 2]}, "encoding": {"y": {"datum": 117.85, "title": null}}},
    {"data": {"name": "ticks"}, "mark": {"type": "text", "align": "left", "baseline": "middle", "fontSize": 4.8, "color": "#a3a6af"},
     "encoding": {"x": {"datum": 165.75, "title": null}, "y": {"field": "t", "type": "quantitative", "title": null}, "text": {"field": "s"}}},
    {"data": {"values": [{}]}, "mark": {"type": "text", "align": "left", "baseline": "middle", "fontSize": 3.9, "color": "#a0a4ad", "text": "Bitcoin / Tether USDt (Perpetual Contract), 1D, BINANCE:BTCUSDT"}, "encoding": {"x": {"datum": 0.9, "title": null}, "y": {"datum": 130.9, "title": null}}},
    {"data": {"values": [{}]}, "mark": {"type": "text", "align": "left", "baseline": "middle", "fontSize": 3.9, "color": "#f7525f", "text": "O118,041.60000  H118,356.70000  L116,823.00000  C117,853.30000  −184.00000 (−0.16%)"}, "encoding": {"x": {"datum": 35.1, "title": null}, "y": {"datum": 130.9, "title": null}}},
    {"data": {"values": [{}]}, "mark": {"type": "text", "align": "left", "baseline": "middle", "fontSize": 3.9, "color": "#a0a4ad", "text": "Volume"}, "encoding": {"x": {"datum": 0.9, "title": null}, "y": {"datum": 128.35, "title": null}}},
    {"data": {"values": [{}]}, "mark": {"type": "text", "align": "left", "baseline": "middle", "fontSize": 3.9, "color": "#f7525f", "text": "1113.476"}, "encoding": {"x": {"datum": 5.6, "title": null}, "y": {"datum": 128.35, "title": null}}},
    {"data": {"values": [{}]}, "mark": {"type": "text", "align": "left", "baseline": "middle", "fontSize": 3.9, "color": "#a0a4ad", "text": "BB (20, 2)"}, "encoding": {"x": {"datum": 0.9, "title": null}, "y": {"datum": 125.8, "title": null}}},
    {"data": {"values": [{}]}, "mark": {"type": "text", "align": "left", "baseline": "middle", "fontSize": 3.9, "color": "#f7525f", "text": "118,164.1160"}, "encoding": {"x": {"datum": 7.0, "title": null}, "y": {"datum": 125.8, "title": null}}},
    {"data": {"values": [{}]}, "mark": {"type": "text", "align": "left", "baseline": "middle", "fontSize": 3.9, "color": "#2f5bff", "text": "120,016.1532"}, "encoding": {"x": {"datum": 15.3, "title": null}, "y": {"datum": 125.8, "title": null}}},
    {"data": {"values": [{}]}, "mark": {"type": "text", "align": "left", "baseline": "middle", "fontSize": 3.9, "color": "#2f5bff", "text": "116,253.0968"}, "encoding": {"x": {"datum": 23.1, "title": null}, "y": {"datum": 125.8, "title": null}}},
    {"data": {"values": [{}]}, "mark": {"type": "rect", "color": "#2433e8"}, "encoding": {"x": {"datum": 165.3, "title": null}, "x2": {"datum": 175.1}, "y": {"datum": 121.2, "title": null}, "y2": {"datum": 122.88}}},
    {"data": {"values": [{}]}, "mark": {"type": "text", "align": "left", "baseline": "middle", "fontSize": 4.6, "color": "#ffffff", "text": "120,016.1532"}, "encoding": {"x": {"datum": 165.75, "title": null}, "y": {"datum": 122.04, "title": null}}},
    {"data": {"values": [{}]}, "mark": {"type": "rect", "color": "#f23645"}, "encoding": {"x": {"datum": 165.3, "title": null}, "x2": {"datum": 175.1}, "y": {"datum": 119.37, "title": null}, "y2": {"datum": 121.05}}},
    {"data": {"values": [{}]}, "mark": {"type": "text", "align": "left", "baseline": "middle", "fontSize": 4.6, "color": "#ffffff", "text": "118,164.1160"}, "encoding": {"x": {"datum": 165.75, "title": null}, "y": {"datum": 120.21, "title": null}}},
    {"data": {"values": [{}]}, "mark": {"type": "rect", "color": "#f23645"}, "encoding": {"x": {"datum": 165.3, "title": null}, "x2": {"datum": 175.1}, "y": {"datum": 117.29, "title": null}, "y2": {"datum": 118.97}}},
    {"data": {"values": [{}]}, "mark": {"type": "text", "align": "left", "baseline": "middle", "fontSize": 4.6, "color": "#ffffff", "text": "117,853.30000"}, "encoding": {"x": {"datum": 165.75, "title": null}, "y": {"datum": 118.13, "title": null}}},
    {"data": {"values": [{}]}, "mark": {"type": "rect", "color": "#2433e8"}, "encoding": {"x": {"datum": 165.3, "title": null}, "x2": {"datum": 175.1}, "y": {"datum": 114.85, "title": null}, "y2": {"datum": 116.53}}},
    {"data": {"values": [{}]}, "mark": {"type": "text", "align": "left", "baseline": "middle", "fontSize": 4.6, "color": "#ffffff", "text": "116,253.0968"}, "encoding": {"x": {"datum": 165.75, "title": null}, "y": {"datum": 115.69, "title": null}}},
    {"data": {"values": [{}]}, "mark": {"type": "rect", "color": "#f23645"}, "encoding": {"x": {"datum": 165.3, "title": null}, "x2": {"datum": 171.2}, "y": {"datum": 48.43, "title": null}, "y2": {"datum": 50.25}}},
    {"data": {"values": [{}]}, "mark": {"type": "text", "align": "left", "baseline": "middle", "fontSize": 4.6, "color": "#ffffff", "text": "1113.476"}, "encoding": {"x": {"datum": 165.75, "title": null}, "y": {"datum": 49.34, "title": null}}}
  ]}
 ],
 "resolve": {"scale": {"y": "independent"}}
},
{
 "width": 580, "height": 23,
 "layer": [
  {"data": {"name": "ind"}, "mark": {"type": "area", "color": "#26a69a", "opacity": 0.95},
   "encoding": {
    "x": {"field": "j", "type": "quantitative", "title": null, "scale": {"domain": [0, 96.67], "nice": false, "zero": false}},
    "y": {"field": "fp", "type": "quantitative", "title": null, "scale": {"domain": [-5, 18], "nice": false, "zero": false}, "axis": {"orient": "right", "values": [0], "title": null}},
    "y2": {"datum": 0}}},
  {"data": {"name": "ind"}, "mark": {"type": "area", "color": "#f06c8c"},
   "encoding": {"x": {"field": "j", "type": "quantitative", "title": null}, "y": {"field": "fn", "type": "quantitative", "title": null}, "y2": {"datum": 0}}},
  {"data": {"values": [{}]}, "mark": {"type": "text", "align": "left", "baseline": "middle", "fontSize": 3.9, "color": "#a0a4ad", "text": "Funding Rate (aggregation) (Perpetuals + Futures)"}, "encoding": {"x": {"datum": 0.83, "title": null}, "y": {"datum": 14, "title": null}}},
  {"data": {"values": [{}]}, "mark": {"type": "text", "align": "left", "baseline": "middle", "fontSize": 3.9, "color": "#26c6a6", "text": "0.00507214"}, "encoding": {"x": {"datum": 17.67, "title": null}, "y": {"datum": 14, "title": null}}},
  {"data": {"values": [{}]}, "mark": {"type": "rect", "color": "#22ab94"}, "encoding": {"x": {"datum": 99.5, "title": null}, "x2": {"datum": 105.3}, "y": {"datum": 2.1, "title": null}, "y2": {"datum": 6.9}}},
  {"data": {"values": [{}]}, "mark": {"type": "text", "align": "left", "baseline": "middle", "fontSize": 4.6, "color": "#ffffff", "text": "0.00507214"}, "encoding": {"x": {"datum": 99.75, "title": null}, "y": {"datum": 4.5, "title": null}}}
 ]
},
{
 "width": 580, "height": 20,
 "layer": [
  {"data": {"name": "ind"}, "mark": {"type": "area", "color": "#f7525f"},
   "encoding": {
    "x": {"field": "j", "type": "quantitative", "title": null, "scale": {"domain": [0, 96.67], "nice": false, "zero": false}},
    "y": {"field": "qp", "type": "quantitative", "title": null, "scale": {"domain": [-9.5, 10.5], "nice": false, "zero": false}, "axis": null},
    "y2": {"datum": 0}}},
  {"data": {"name": "ind"}, "mark": {"type": "area", "color": "#22ab94"},
   "encoding": {"x": {"field": "j", "type": "quantitative", "title": null}, "y": {"field": "qn", "type": "quantitative", "axis": null}, "y2": {"datum": 0}}},
  {"data": {"values": [{}]}, "mark": {"type": "rule", "color": "#9598a1", "strokeWidth": 0.5, "opacity": 0.6}, "encoding": {"y": {"datum": 0, "axis": null}}},
  {"data": {"values": [{}]}, "mark": {"type": "text", "align": "left", "baseline": "middle", "fontSize": 3.9, "color": "#a0a4ad", "text": "Liquidations (aggregation) (1M, ∞, Perpetuals + Futures)"}, "encoding": {"x": {"datum": 0.83, "title": null}, "y": {"datum": 4.5, "axis": null}}},
  {"data": {"values": [{}]}, "mark": {"type": "text", "align": "left", "baseline": "middle", "fontSize": 3.9, "color": "#f7525f", "text": "1.660M"}, "encoding": {"x": {"datum": 19.67, "title": null}, "y": {"datum": 4.5, "axis": null}}},
  {"data": {"values": [{}]}, "mark": {"type": "text", "align": "left", "baseline": "middle", "fontSize": 3.9, "color": "#26c6a6", "text": "−2.249M"}, "encoding": {"x": {"datum": 22.17, "title": null}, "y": {"datum": 4.5, "axis": null}}},
  {"data": {"values": [{}]}, "mark": {"type": "rect", "color": "#f23645"}, "encoding": {"x": {"datum": 99.5, "title": null}, "x2": {"datum": 105.3}, "y": {"datum": -2.2, "axis": null}, "y2": {"datum": 1.6}}},
  {"data": {"values": [{}]}, "mark": {"type": "text", "align": "left", "baseline": "middle", "fontSize": 4.6, "color": "#ffffff", "text": "1.660 M"}, "encoding": {"x": {"datum": 99.75, "title": null}, "y": {"datum": -0.3, "axis": null}}},
  {"data": {"values": [{}]}, "mark": {"type": "rect", "color": "#22ab94"}, "encoding": {"x": {"datum": 99.5, "title": null}, "x2": {"datum": 105.3}, "y": {"datum": -7.6, "axis": null}, "y2": {"datum": -3.8}}},
  {"data": {"values": [{}]}, "mark": {"type": "text", "align": "left", "baseline": "middle", "fontSize": 4.6, "color": "#ffffff", "text": "−2.249 M"}, "encoding": {"x": {"datum": 99.75, "title": null}, "y": {"datum": -5.7, "axis": null}}}
 ]
},
{
 "width": 580, "height": 26,
 "layer": [
  {"data": {"name": "ind"}, "mark": {"type": "line", "color": "#d9c85a", "strokeWidth": 0.8},
   "encoding": {
    "x": {"field": "j", "type": "quantitative", "title": null, "scale": {"domain": [0, 96.67], "nice": false, "zero": false}},
    "y": {"field": "oi", "type": "quantitative", "title": null, "scale": {"domain": [36, 54], "nice": false, "zero": false}, "axis": {"orient": "right", "values": [42.9], "labelExpr": "'USD'", "title": null}}}},
  {"data": {"values": [{}]}, "mark": {"type": "text", "align": "left", "baseline": "middle", "fontSize": 3.9, "color": "#a0a4ad", "text": "Open Interest (aggregation) (All)"}, "encoding": {"x": {"datum": 0.83, "title": null}, "y": {"datum": 49.15, "title": null}}},
  {"data": {"values": [{}]}, "mark": {"type": "text", "align": "left", "baseline": "middle", "fontSize": 3.9, "color": "#f7525f", "text": "49.82B  51.48B  48.71B  49.85B"}, "encoding": {"x": {"datum": 12.0, "title": null}, "y": {"datum": 49.15, "title": null}}},
  {"data": {"values": [{}]}, "mark": {"type": "text", "align": "left", "baseline": "middle", "fontSize": 3.9, "color": "#e6d356", "text": "49.85 B"}, "encoding": {"x": {"datum": 23.0, "title": null}, "y": {"datum": 49.15, "title": null}}},
  {"data": {"values": [{}]}, "mark": {"type": "rect", "color": "#e8505b", "stroke": "#e6d356", "strokeWidth": 0.8}, "encoding": {"x": {"datum": 99.5, "title": null}, "x2": {"datum": 105.3}, "y": {"datum": 48.25, "title": null}, "y2": {"datum": 52.8}}},
  {"data": {"values": [{}]}, "mark": {"type": "text", "align": "left", "baseline": "middle", "fontSize": 4.6, "color": "#ffffff", "text": "49.85 B"}, "encoding": {"x": {"datum": 99.75, "title": null}, "y": {"datum": 50.5, "title": null}}}
 ]
},
{
 "width": 580, "height": 18,
 "layer": [
  {"data": {"name": "ind"}, "mark": {"type": "area", "color": "#26a69a"},
   "encoding": {
    "x": {"field": "j", "type": "quantitative", "title": null, "scale": {"domain": [0, 96.67], "nice": false, "zero": false}},
    "y": {"field": "ap", "type": "quantitative", "title": null, "scale": {"domain": [-13, 5], "nice": false, "zero": false}, "axis": {"orient": "right", "values": [0], "title": null}},
    "y2": {"datum": 0}}},
  {"data": {"name": "ind"}, "mark": {"type": "area", "color": "#f7525f"},
   "encoding": {"x": {"field": "j", "type": "quantitative", "title": null}, "y": {"field": "an", "type": "quantitative", "title": null}, "y2": {"datum": 0}}},
  {"data": {"values": [{}]}, "mark": {"type": "text", "align": "left", "baseline": "middle", "fontSize": 3.9, "color": "#a0a4ad", "text": "Volume By Side (aggregation) Sum (Cum), Delta, 1m, ∞(USD), Derivatives, ∞(Derivatives)"}, "encoding": {"x": {"datum": 0.83, "title": null}, "y": {"datum": 3, "title": null}}},
  {"data": {"values": [{}]}, "mark": {"type": "text", "align": "left", "baseline": "middle", "fontSize": 3.9, "color": "#f7525f", "text": "−5.79B"}, "encoding": {"x": {"datum": 28.83, "title": null}, "y": {"datum": 3, "title": null}}},
  {"data": {"values": [{}]}, "mark": {"type": "rect", "color": "#f23645"}, "encoding": {"x": {"datum": 99.5, "title": null}, "x2": {"datum": 105.3}, "y": {"datum": -8.8, "title": null}, "y2": {"datum": -4.2}}},
  {"data": {"values": [{}]}, "mark": {"type": "text", "align": "left", "baseline": "middle", "fontSize": 4.6, "color": "#ffffff", "text": "−5.79 B"}, "encoding": {"x": {"datum": 99.75, "title": null}, "y": {"datum": -6.5, "title": null}}}
 ]
},
{
 "width": 580, "height": 13,
 "layer": [
  {"data": {"name": "ind"}, "mark": {"type": "area", "color": "#26a69a"},
   "encoding": {
    "x": {"field": "j", "type": "quantitative", "title": null, "scale": {"domain": [0, 96.67], "nice": false, "zero": false}},
    "y": {"field": "bp", "type": "quantitative", "title": null, "scale": {"domain": [-8, 5], "nice": false, "zero": false}, "axis": null},
    "y2": {"datum": 0}}},
  {"data": {"name": "ind"}, "mark": {"type": "area", "color": "#f7525f"},
   "encoding": {"x": {"field": "j", "type": "quantitative", "title": null}, "y": {"field": "bn", "type": "quantitative", "axis": null}, "y2": {"datum": 0}}},
  {"data": {"values": [{}]}, "mark": {"type": "text", "align": "left", "baseline": "middle", "fontSize": 3.9, "color": "#a0a4ad", "text": "Volume By Side Sum (Cum), Delta, Any-time, 1D, Spot, ..., None (Spot))"}, "encoding": {"x": {"datum": 0.83, "title": null}, "y": {"datum": 2, "axis": null}}},
  {"data": {"values": [{}]}, "mark": {"type": "text", "align": "left", "baseline": "middle", "fontSize": 3.9, "color": "#f7525f", "text": "−2.61K"}, "encoding": {"x": {"datum": 23.0, "title": null}, "y": {"datum": 2, "axis": null}}},
  {"data": {"values": [{}]}, "mark": {"type": "rect", "color": "#f23645"}, "encoding": {"x": {"datum": 99.5, "title": null}, "x2": {"datum": 105.3}, "y": {"datum": -2.3, "axis": null}, "y2": {"datum": 2.3}}},
  {"data": {"values": [{}]}, "mark": {"type": "text", "align": "left", "baseline": "middle", "fontSize": 4.6, "color": "#ffffff", "text": "−2.61 K"}, "encoding": {"x": {"datum": 99.75, "title": null}, "y": {"datum": 0, "axis": null}}}
 ]
}
]
}
